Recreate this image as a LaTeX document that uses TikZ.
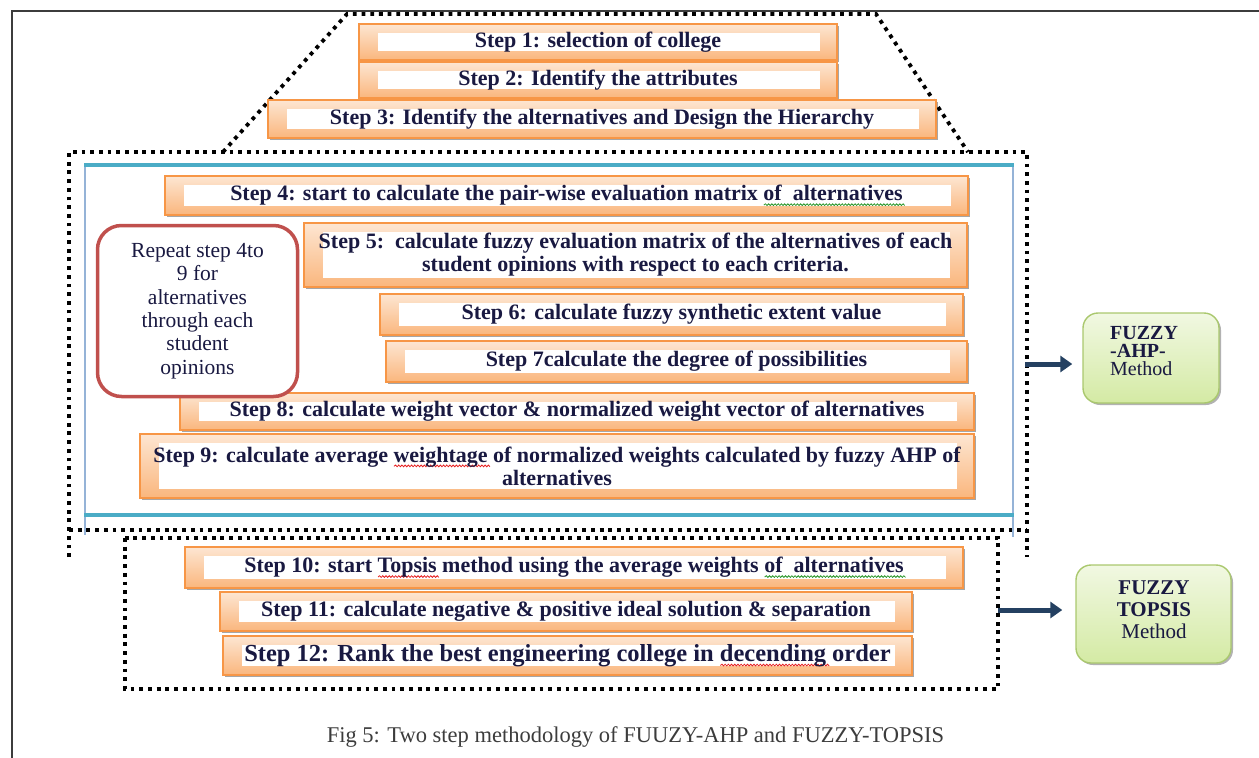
\documentclass[tikz,border=0pt]{standalone}
\usepackage{fontspec}
\setmainfont{Liberation Serif}
\usetikzlibrary{arrows.meta,shadows}
\definecolor{stepor}{RGB}{247,150,70}
\definecolor{ortop}{RGB}{253,230,210}
\definecolor{orbot}{RGB}{250,182,125}
\definecolor{txtc}{RGB}{25,25,65}
\definecolor{tealc}{RGB}{75,172,198}
\definecolor{lblue}{RGB}{149,179,215}
\definecolor{redbox}{RGB}{192,80,77}
\definecolor{grtop}{RGB}{241,248,226}
\definecolor{grbot}{RGB}{212,234,164}
\definecolor{grline}{RGB}{170,200,110}
\definecolor{arrowc}{RGB}{36,64,97}
\definecolor{pagec}{RGB}{60,60,60}
\definecolor{sqred}{RGB}{230,30,30}
\definecolor{sqgreen}{RGB}{40,150,40}
\newdimen\sqw \newdimen\sqx
\newcommand\squig[2]{%
  \setbox0\hbox{#2}\sqw=\wd0\relax
  \rlap{\smash{\begin{pgfpicture}%
     \pgfsetbaseline{0pt}%
     \pgfsetlinewidth{0.8pt}\pgfsetstrokecolor{#1}%
     \sqx=0pt\relax
     \pgfpathmoveto{\pgfpoint{0pt}{-4.2pt}}%
     \loop\ifdim\sqx<\sqw
        \advance\sqx by 1.6pt\relax
        \pgfpathlineto{\pgfpoint{\sqx}{-2.9pt}}%
        \advance\sqx by 1.6pt\relax
        \pgfpathlineto{\pgfpoint{\sqx}{-4.6pt}}%
     \repeat
     \pgfusepath{stroke}%
  \end{pgfpicture}}}\box0\relax}
\newcommand\stepfont{\bfseries\fontsize{22}{23}\selectfont}
\begin{document}
\begin{tikzpicture}[x=1pt,y=-1pt,
  stepbox/.style={draw=stepor, line width=1.4pt, top color=ortop, bottom color=orbot,
    inner sep=0pt, font=\stepfont, text=txtc, align=center,
    drop shadow={shadow xshift=2pt,shadow yshift=-2pt,opacity=.35,fill=black},
    path picture={\fill[white] ([xshift=19pt,yshift=-9pt]path picture bounding box.north west)
      rectangle ([xshift=-17pt,yshift=9pt]path picture bounding box.south east);}},
  dotline/.style={line width=3.8pt, dash pattern=on 3.8pt off 4.9pt, black},
  fuzzybox/.style={draw=grline, line width=1.4pt, top color=grtop, bottom color=grbot,
    rounded corners=15pt, inner sep=0pt,
    drop shadow={shadow xshift=2pt,shadow yshift=-2pt,opacity=.3,fill=black}},
  fuzzytext/.style={text=txtc, inner sep=0pt, font=\fontsize{20}{18}\selectfont},
  bigarrow/.style={draw=arrowc, line width=5pt, -{Triangle[length=12pt,width=16pt]}},
]
\useasboundingbox (0,0) rectangle (1259,758);
% page edges
\draw[pagec, line width=1.3pt] (12,758) -- (12,11) -- (1259,11);
% dotted frames
\draw[dotline] (223,152) -- (347,14) -- (876,14) -- (968,152);
\draw[dotline] (69,557) -- (69,152) -- (1027,152) -- (1027,557);
\draw[dotline] (69,530) -- (1027,530);
\draw[dotline] (125,538) rectangle (998,689);
% blue frame
\draw[lblue, line width=2pt] (85,165) -- (85,535);
\draw[lblue, line width=2pt] (1013,165) -- (1013,537);
\draw[tealc, line width=4pt] (84,165) -- (1014,165);
\draw[tealc, line width=4pt] (84,515) -- (1014,515);
% steps
\node[stepbox, minimum width=478, minimum height=36] (s1) at (598,42) {Step 1: selection of college};
\node[stepbox, minimum width=478, minimum height=36] (s2) at (598,80) {Step 2: Identify the attributes};
\node[stepbox, minimum width=668, minimum height=38] (s3) at (602,119) {Step 3: Identify the alternatives and Design the Hierarchy};
\node[stepbox, minimum width=803, minimum height=39] (s4) at (566.5,195.5) {Step 4: start to calculate the pair-wise evaluation matrix \squig{sqgreen}{of\ \ alternatives}};
\node[stepbox, minimum width=663, minimum height=64] (s5) at (635.5,255) {Step 5:\ \ calculate fuzzy evaluation matrix of the alternatives of each\\student opinions with respect to each criteria.};
\node[stepbox, minimum width=583, minimum height=41] (s6) at (671.5,314.5) {Step 6: calculate fuzzy synthetic extent value};
\node[stepbox, minimum width=581, minimum height=41] (s7) at (676.5,361.5) {Step 7calculate the degree of possibilities};
\node[stepbox, minimum width=794, minimum height=37] (s8) at (577,411.5) {Step 8: calculate weight vector \& normalized weight vector of alternatives};
\node[stepbox, minimum width=834, minimum height=64] (s9) at (557,466) {Step 9: calculate average \squig{sqred}{weightage} of normalized weights calculated by fuzzy AHP of\\alternatives};
\node[stepbox, minimum width=778, minimum height=41] (s10) at (574,567.5) {Step 10: start \squig{sqred}{Topsis} method using the average weights \squig{sqgreen}{of\ \ alternatives}};
\node[stepbox, minimum width=692, minimum height=39] (s11) at (566,611.5) {Step 11: calculate negative \& positive ideal solution \& separation};
\node[stepbox, minimum width=689, minimum height=39, font=\bfseries\fontsize{24.5}{25}\selectfont] (s12) at (567.5,655.5) {Step 12: Rank the best engineering college in \squig{sqred}{decending} order};
% repeat box
\node[draw=redbox, line width=3.5pt, fill=white, rounded corners=24pt, minimum width=200, minimum height=171,
  inner sep=0pt, align=center, text=txtc, font=\fontsize{21.5}{23.4}\selectfont] (rep) at (197.5,311)
  {Repeat step 4to\\9 for\\alternatives\\through each\\student\\opinions};
% fuzzy method boxes
\node[fuzzybox, minimum width=136, minimum height=90] (ahp) at (1151,358) {};
\node[fuzzytext, anchor=west, align=left] (ahptxt) at (1110,351) {\bfseries FUZZY\\\bfseries -AHP-\\Method};
\node[fuzzybox, minimum width=155, minimum height=98] (topsis) at (1153.5,614) {};
\node[fuzzytext, align=center, font=\fontsize{21}{22}\selectfont] (topsistxt) at (1154,610) {\bfseries FUZZY\\\bfseries TOPSIS\\Method};
% arrows
\coordinate (a1) at (1025,364);
\draw[bigarrow, shorten >=10pt] (a1) -- (a1 -| ahp.west);
\coordinate (a2) at (998,610);
\draw[bigarrow, shorten >=13pt] (a2) -- (a2 -| topsis.west);
% caption
\node[text=pagec, inner sep=0pt, font=\fontsize{22.5}{23}\selectfont] (cap) at (635.5,737) {Fig 5: Two step methodology of FUUZY-AHP and FUZZY-TOPSIS};
\end{tikzpicture}
\end{document}
